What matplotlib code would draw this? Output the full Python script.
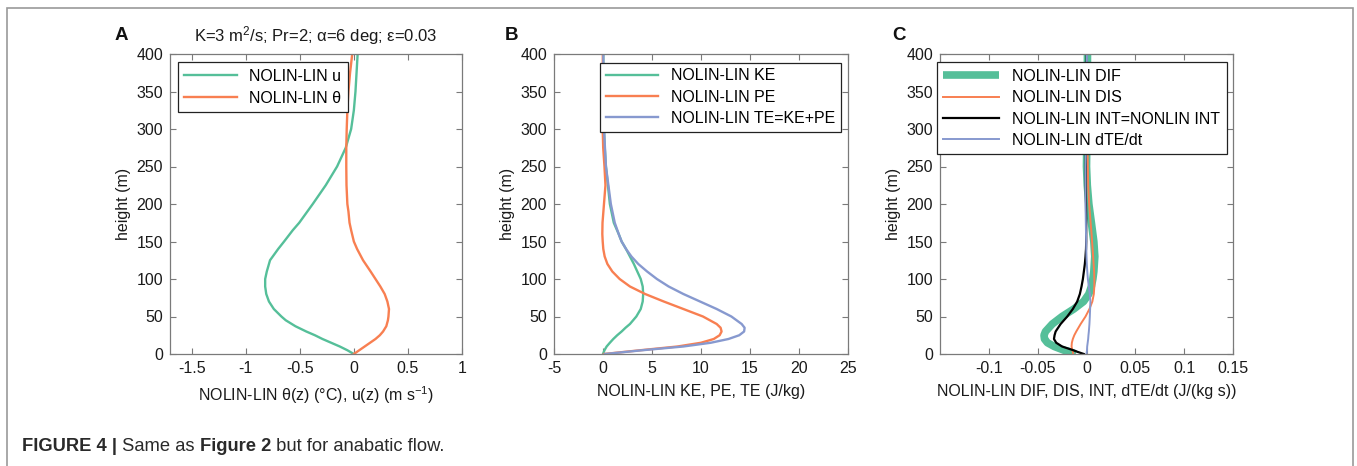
import matplotlib
matplotlib.use("Agg")
import matplotlib.pyplot as plt
from matplotlib.patches import Rectangle

plt.rcParams['font.family'] = ['Liberation Sans', 'DejaVu Sans']
plt.rcParams['mathtext.fontset'] = 'custom'
plt.rcParams['mathtext.rm'] = 'Liberation Sans'
plt.rcParams['mathtext.it'] = 'Liberation Sans:italic'
plt.rcParams['mathtext.bf'] = 'Liberation Sans:bold'
plt.rcParams['axes.unicode_minus'] = False

# ---------------- data ----------------
# Panel A
zA = [0, 5, 10, 15, 20, 25, 30, 37, 45, 50, 60, 70, 80, 90, 100, 110, 125, 140,
      150, 165, 175, 190, 200, 225, 250, 275, 300, 325, 350, 375, 400]
u_diff = [0, -0.06, -0.13, -0.21, -0.29, -0.36, -0.44, -0.54, -0.63, -0.67, -0.74,
          -0.785, -0.81, -0.82, -0.82, -0.805, -0.775, -0.70, -0.645, -0.565, -0.505,
          -0.43, -0.38, -0.26, -0.155, -0.075, -0.025, 0.0, 0.015, 0.025, 0.035]
theta_diff = [0, 0.05, 0.10, 0.15, 0.20, 0.24, 0.27, 0.30, 0.315, 0.32, 0.325,
              0.31, 0.285, 0.245, 0.20, 0.155, 0.085, 0.03, 0.0, -0.025, -0.04,
              -0.05, -0.06, -0.068, -0.07, -0.07, -0.066, -0.06, -0.05, -0.035, -0.015]

# Panel B
zB = [0, 5, 10, 15, 20, 25, 30, 35, 40, 50, 60, 70, 80, 90, 100, 110, 120, 130,
      140, 150, 160, 175, 200, 225, 250, 275, 300, 350, 400]
KE_diff = [0, 0.15, 0.37, 0.7, 1.05, 1.45, 1.9, 2.3, 2.75, 3.4, 3.85, 4.05, 4.1,
           4.05, 3.85, 3.5, 3.15, 2.75, 2.35, 1.9, 1.6, 1.1, 0.7, 0.5, 0.3, 0.18,
           0.1, 0.05, 0.03]
PE_diff = [0.1, 3.8, 7.6, 10.0, 11.3, 11.9, 12.1, 12.0, 11.6, 10.2, 8.2, 6.2, 4.3,
           2.75, 1.7, 0.95, 0.45, 0.17, 0.03, -0.03, -0.07, -0.05, 0.1, 0.25, 0.15,
           0.02, -0.03, -0.03, -0.02]
TE_diff = [0.2, 4.0, 8.2, 11.0, 12.8, 13.9, 14.4, 14.45, 14.15, 13.1, 11.6, 9.9,
           8.2, 6.7, 5.5, 4.5, 3.6, 2.9, 2.35, 1.9, 1.6, 1.2, 0.8, 0.55, 0.3, 0.2,
           0.1, 0.05, 0.03]

# Panel C
zC = [0, 3, 5, 10, 15, 20, 25, 30, 40, 50, 60, 70, 80, 90, 100, 110, 120, 130,
      140, 150, 160, 175, 200, 225, 250, 300, 350, 400]
DIF_diff = [-0.011, -0.017, -0.023, -0.033, -0.040, -0.043, -0.0435, -0.042, -0.035,
            -0.025, -0.013, -0.003, 0.0024, 0.005, 0.0065, 0.0075, 0.008, 0.0085,
            0.008, 0.0075, 0.0065, 0.005, 0.0024, 0.0008, 0.0, 0.0005, 0.0008, 0.001]
DIS_diff = [-0.0136, -0.014, -0.0146, -0.0153, -0.015, -0.014, -0.0125, -0.0105,
            -0.006, -0.001, 0.003, 0.006, 0.0075, 0.008, 0.008, 0.0078, 0.0073,
            0.0068, 0.0063, 0.0057, 0.0052, 0.0042, 0.0027, 0.0017, 0.0014, 0.0008,
            0.0006, 0.0005]
INT_diff = [-0.0027, -0.0095, -0.0135, -0.025, -0.0310, -0.0333, -0.0327, -0.0316,
            -0.0265, -0.0197, -0.014, -0.0095, -0.0068, -0.0051, -0.0037, -0.0027,
            -0.0017, -0.001, -0.0005, -0.0003, -0.0003, -0.0003, -0.0005, -0.0008,
            -0.0008, -0.0003, 0.0, 0.0003]
dTEdt_diff = [0, 0.0003, 0.0005, 0.0007, 0.0012, 0.0017, 0.002, 0.0024, 0.003,
              0.0034, 0.0037, 0.004, 0.0034, 0.0024, 0.0014, 0.0008, 0.0003, 0.0,
              -0.0002, -0.0003, -0.0005, -0.0007, -0.001, -0.001, -0.001, 0.0,
              0.0003, 0.0005]

xticksA = [-1.5, -1, -0.5, 0, 0.5, 1]
xtlA = ['-1.5', '-1', '-0.5', '0', '0.5', '1']
xticksB = [-5, 0, 5, 10, 15, 20, 25]
xtlB = ['-5', '0', '5', '10', '15', '20', '25']
xticksC = [-0.1, -0.05, 0, 0.05, 0.1, 0.15]
xtlC = ['-0.1', '-0.05', '0', '0.05', '0.1', '0.15']
yticks = [0, 50, 100, 150, 200, 250, 300, 350, 400]

GREEN = '#55bf99'
ORANGE = '#f87f51'
BLUE = '#8799cf'
FS = 11.5

W, H = 1357, 466
fig = plt.figure(figsize=(W / 100, H / 100), dpi=100)

def fx(px):
    return px / W

def fy(py):
    return 1 - py / H

def make_ax(left, right):
    ax = fig.add_axes([fx(left), fy(354), fx(right - left), (354 - 54) / H])
    for s in ax.spines.values():
        s.set_color('#7a7a7a')
        s.set_linewidth(0.9)
    ax.tick_params(direction='in', length=4, width=0.8, color='#7a7a7a',
                   top=True, right=True, labelsize=FS, labelcolor='#1a1a1a', pad=5)
    ax.set_ylim(0, 400)
    ax.set_yticks(yticks)
    ax.set_ylabel('height (m)', fontsize=FS, color='#1a1a1a')
    ax.yaxis.set_label_coords(-0.132, 0.5)
    return ax

# Panel A
axA = make_ax(170, 462)
axA.plot(u_diff, zA, color=GREEN, lw=1.7, label='NOLIN-LIN u')
axA.plot(theta_diff, zA, color=ORANGE, lw=1.7, label='NOLIN-LIN θ')
axA.set_xlim(-1.7, 1)
axA.set_xticks(xticksA)
axA.set_xticklabels(xtlA)
axA.set_xlabel('NOLIN-LIN θ(z) (°C), u(z) (m s$^{-1}$)', fontsize=FS, color='#1a1a1a')
axA.xaxis.set_label_coords(0.5, -0.10)
axA.text(0.5, (354 - 41.5) / 300, 'K=3 m$^2$/s; Pr=2; α=6 deg; ε=0.03',
         transform=axA.transAxes, ha='center', va='baseline', fontsize=12, color='#1a1a1a')
legA = axA.legend(loc='upper left', bbox_to_anchor=(0.026, 0.972), borderaxespad=0,
                  fontsize=FS, fancybox=False, framealpha=1, edgecolor='#222222',
                  handlelength=3.3, borderpad=0.4, labelspacing=0.45)
legA.get_frame().set_linewidth(0.9)

# Panel B
axB = make_ax(554, 848)
axB.plot(KE_diff, zB, color=GREEN, lw=1.7, label='NOLIN-LIN KE')
axB.plot(PE_diff, zB, color=ORANGE, lw=1.7, label='NOLIN-LIN PE')
axB.plot(TE_diff, zB, color=BLUE, lw=1.7, label='NOLIN-LIN TE=KE+PE')
axB.set_xlim(-5, 25)
axB.set_xticks(xticksB)
axB.set_xticklabels(xtlB)
axB.set_xlabel('NOLIN-LIN KE, PE, TE (J/kg)', fontsize=FS, color='#1a1a1a')
axB.xaxis.set_label_coords(0.5, -0.10)
legB = axB.legend(loc='upper right', bbox_to_anchor=(0.976, 0.971), borderaxespad=0,
                  fontsize=FS, fancybox=False, framealpha=1, edgecolor='#222222',
                  handlelength=3.3, borderpad=0.35, labelspacing=0.4)
legB.get_frame().set_linewidth(0.9)

# Panel C
axC = make_ax(940, 1233)
axC.plot(DIF_diff, zC, color=GREEN, lw=5.5, label='NOLIN-LIN DIF', solid_capstyle='butt')
axC.plot(DIS_diff, zC, color=ORANGE, lw=1.4, label='NOLIN-LIN DIS')
axC.plot(INT_diff, zC, color='black', lw=1.6, label='NOLIN-LIN INT=NONLIN INT')
axC.plot(dTEdt_diff, zC, color=BLUE, lw=1.4, label='NOLIN-LIN dTE/dt')
axC.set_xlim(-0.15, 0.15)
axC.set_xticks(xticksC)
axC.set_xticklabels(xtlC)
axC.set_xlabel('NOLIN-LIN DIF, DIS, INT, dTE/dt (J/(kg s))', fontsize=FS, color='#1a1a1a')
axC.xaxis.set_label_coords(0.5, -0.10)
legC = axC.legend(loc='upper left', bbox_to_anchor=(-0.01, 0.972), borderaxespad=0,
                  fontsize=FS, fancybox=False, framealpha=1, edgecolor='#222222',
                  handlelength=3.5, borderpad=0.4, labelspacing=0.4)
legC.get_frame().set_linewidth(0.9)

# Panel letters
for lx, lab in [(115, 'A'), (505, 'B'), (892, 'C')]:
    fig.text(fx(lx), fy(40), lab, fontsize=13.5, fontweight='bold', ha='left',
             va='baseline', color='#111111')

# Outer frame
fig.patches.append(Rectangle((fx(7), -0.1), fx(1353 - 7), fy(7.5) + 0.1,
                             transform=fig.transFigure, fill=False,
                             edgecolor='#9a9a9a', lw=1.2))

# Caption (pieces with mixed weights)
pieces = [('FIGURE 4 |', 'bold'), (' Same as ', 'normal'), ('Figure 2', 'bold'),
          (' but for anabatic flow.', 'normal')]
fig.canvas.draw()
renderer = fig.canvas.get_renderer()
xpos = 22
for txt, wt in pieces:
    t = fig.text(fx(xpos), fy(451), txt, fontsize=13.2, fontweight=wt,
                 ha='left', va='baseline', color='#2a2a2a')
    bb = t.get_window_extent(renderer=renderer)
    xpos += bb.width

fig.savefig('out.png', dpi=100)
